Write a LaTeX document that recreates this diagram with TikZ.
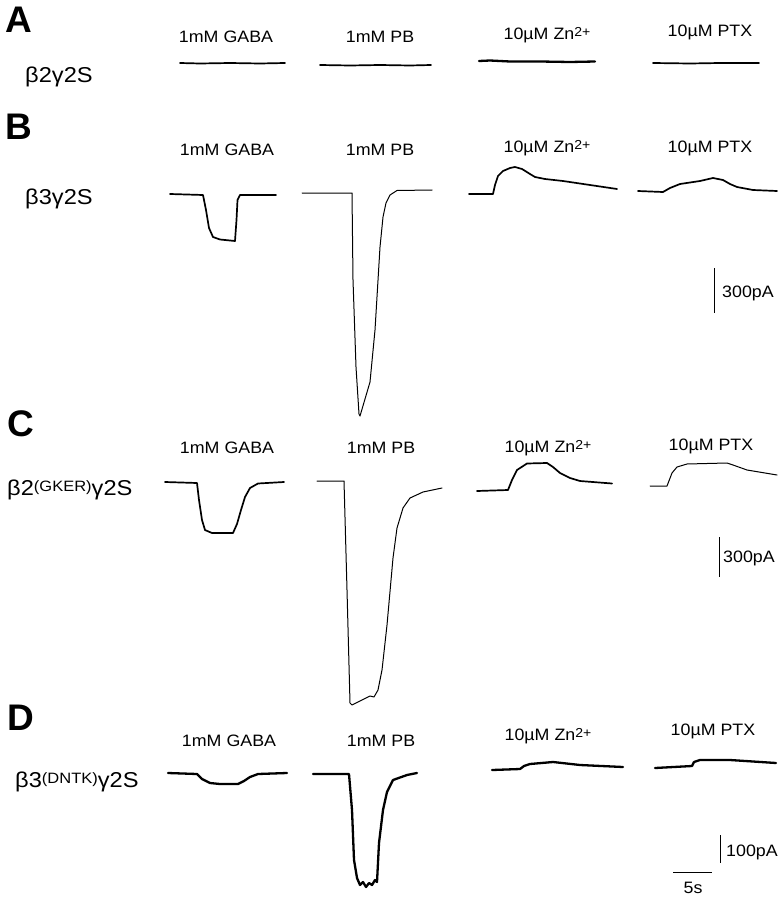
\documentclass[tikz,border=0pt]{standalone}
\usepackage{fontspec}
\setmainfont{Liberation Sans}
\newcommand\wx[1]{\scalebox{1.08}[1]{#1}}
\newcommand\wg[1]{\scalebox{1.1}[1]{#1}}
\newcommand\zn{Zn\raisebox{3pt}{\fontsize{13}{13}\selectfont 2+}}
\newcommand\gsub[1]{\raisebox{3.5pt}{\fontsize{15}{15}\selectfont #1}}
\tikzset{
  lab/.style={font=\fontsize{16.5}{17}\selectfont, anchor=base, inner sep=0pt},
  barlab/.style={font=\fontsize{16.5}{17}\selectfont, anchor=base west, inner sep=0pt},
  geno/.style={font=\fontsize{21.5}{23}\selectfont, anchor=base west, inner sep=0pt},
  panel/.style={font=\bfseries\fontsize{37}{38}\selectfont, anchor=base west, inner sep=0pt},
  trace/.style={line width=1.7pt, line join=round, line cap=round},
  thintrace/.style={line width=1.0pt, line join=round, line cap=round},
  thicktrace/.style={line width=2.3pt, line join=round, line cap=round},
  bar/.style={line width=0.8pt}
}
\begin{document}
\begin{tikzpicture}[x=1pt,y=-1pt]
\fill[white] (0,0) rectangle (782,899);
\useasboundingbox (0,0) rectangle (782,899);

% ---------------- Panel A ----------------
\node[panel] (pA) at (5,33) {A};
\node[geno] (gA) at (25,82) {\wg{β2γ2S}};
\node[lab] (a1) at (226,43) {\wx{1mM GABA}};
\node[lab] (a2) at (380,43) {\wx{1mM PB}};
\node[lab] (a3) at (547,40) {\wx{10µM \zn}};
\node[lab] (a4) at (710,37) {\wx{10µM PTX}};
\draw[trace] (180,63) -- (200,63.5) -- (230,63) -- (260,63.5) -- (285,63);
\draw[trace] (320,65) -- (350,65.5) -- (380,65) -- (410,65.5) -- (431,65);
\draw[thicktrace] (479,61) -- (490,60.5) -- (510,61.5) -- (540,61.5) -- (570,62) -- (595,61.5);
\draw[trace] (653,63) -- (690,63.5) -- (720,63) -- (759,63);

% ---------------- Panel B ----------------
\node[panel] (pB) at (5,139) {B};
\node[geno] (gB) at (25,204) {\wg{β3γ2S}};
\node[lab] (b1) at (227,155) {\wx{1mM GABA}};
\node[lab] (b2) at (380,155) {\wx{1mM PB}};
\node[lab] (b3) at (547,152) {\wx{10µM \zn}};
\node[lab] (b4) at (710,152) {\wx{10µM PTX}};
\draw[trace] (170,194) -- (203,195) -- (206,210) -- (209,228) -- (213,237) -- (220,239.5) -- (235,241) -- (236.5,220) -- (237.5,200) -- (240,195) -- (276,195);
\draw[thintrace] (302,193) -- (352,193) -- (353,280) -- (356,367) -- (359,414) -- (360,416) -- (370,382) -- (375,330) -- (380,247) -- (383,217) -- (386,203) -- (390,195) -- (397,190.5) -- (432,190);
\draw[trace] (469,194) -- (493,194) -- (495,185) -- (498,176) -- (503,171) -- (510,168) -- (515,167) -- (522,169) -- (530,174) -- (535,177) -- (545,179) -- (563,181) -- (590,185) -- (617,189);
\draw[trace] (638,191) -- (663,192) -- (670,188) -- (680,184) -- (700,181) -- (713,178) -- (723,180) -- (730,184) -- (737,187) -- (753,190) -- (777,191);
\coordinate (sbBt) at (714,268);
\coordinate (sbBb) at (714,313);
\draw[bar] (sbBt) -- (sbBb);
\node[barlab] (sbBl) at (722,297) {\wx{300pA}};

% ---------------- Panel C ----------------
\node[panel] (pC) at (7,436) {C};
\node[geno] (gC) at (7,495) {\wg{β2\gsub{(GKER)}γ2S}};
\node[lab] (c1) at (227,453) {\wx{1mM GABA}};
\node[lab] (c2) at (381,453) {\wx{1mM PB}};
\node[lab] (c3) at (548,452) {\wx{10µM \zn}};
\node[lab] (c4) at (711,450) {\wx{10µM PTX}};
\draw[trace] (165,482) -- (197,483) -- (199,500) -- (202,520) -- (205,530) -- (212,533) -- (233,533) -- (237,524) -- (241,510) -- (245,497) -- (250,488) -- (258,483.5) -- (284,482);
\draw[thintrace] (317,481) -- (344,481) -- (347,590) -- (350,703) -- (352,705) -- (362,700) -- (370,696) -- (374,697) -- (378,690) -- (382,670) -- (387,625) -- (393,558) -- (397,528) -- (403,508) -- (410,498) -- (423,492) -- (442,488);
\draw[trace] (477,491) -- (508,490) -- (512,480) -- (517,470) -- (527,463.5) -- (547,463) -- (553,467) -- (560,473) -- (570,478) -- (580,481) -- (612,483.5);
\draw[thintrace] (650,486) -- (667,486) -- (672,473) -- (677,467) -- (687,464) -- (727,463) -- (733,465) -- (747,470) -- (777,475);
\coordinate (sbCt) at (719,537);
\coordinate (sbCb) at (719,577);
\draw[bar] (sbCt) -- (sbCb);
\node[barlab] (sbCl) at (723,562) {\wx{300pA}};

% ---------------- Panel D ----------------
\node[panel] (pD) at (7,730) {D};
\node[geno] (gD) at (15,787) {\wg{β3\gsub{(DNTK)}γ2S}};
\node[lab] (d1) at (229,746) {\wx{1mM GABA}};
\node[lab] (d2) at (381,746) {\wx{1mM PB}};
\node[lab] (d3) at (548,740) {\wx{10µM \zn}};
\node[lab] (d4) at (713,735) {\wx{10µM PTX}};
\draw[thicktrace] (168,773) -- (197,774) -- (202,779) -- (210,783) -- (220,784) -- (238,784) -- (244,781) -- (250,777) -- (258,774) -- (287,773);
\draw[thicktrace] (313,774) -- (349,774) -- (352,810) -- (354,860) -- (357,878) -- (360,885) -- (363,882) -- (366,887) -- (369,883) -- (372,885) -- (375,880) -- (377,882) -- (379,843) -- (383,810) -- (387,792) -- (393,780) -- (407,775) -- (417,773);
\draw[thicktrace] (492,770) -- (520,769) -- (524,766) -- (530,764) -- (553,762) -- (580,765) -- (623,767);
\draw[thicktrace] (655,768) -- (692,766) -- (694,762) -- (700,760) -- (730,760) -- (776,763);
\coordinate (sbDt) at (720,835);
\coordinate (sbDb) at (720,863);
\draw[bar] (sbDt) -- (sbDb);
\node[barlab] (sbDl) at (726,856) {\wx{100pA}};
\coordinate (sbTl) at (673,872);
\coordinate (sbTr) at (712,872);
\draw[bar] (sbTl) -- (sbTr);
\node[lab] (sbTlab) at (693,893) {\wx{5s}};
\end{tikzpicture}
\end{document}
